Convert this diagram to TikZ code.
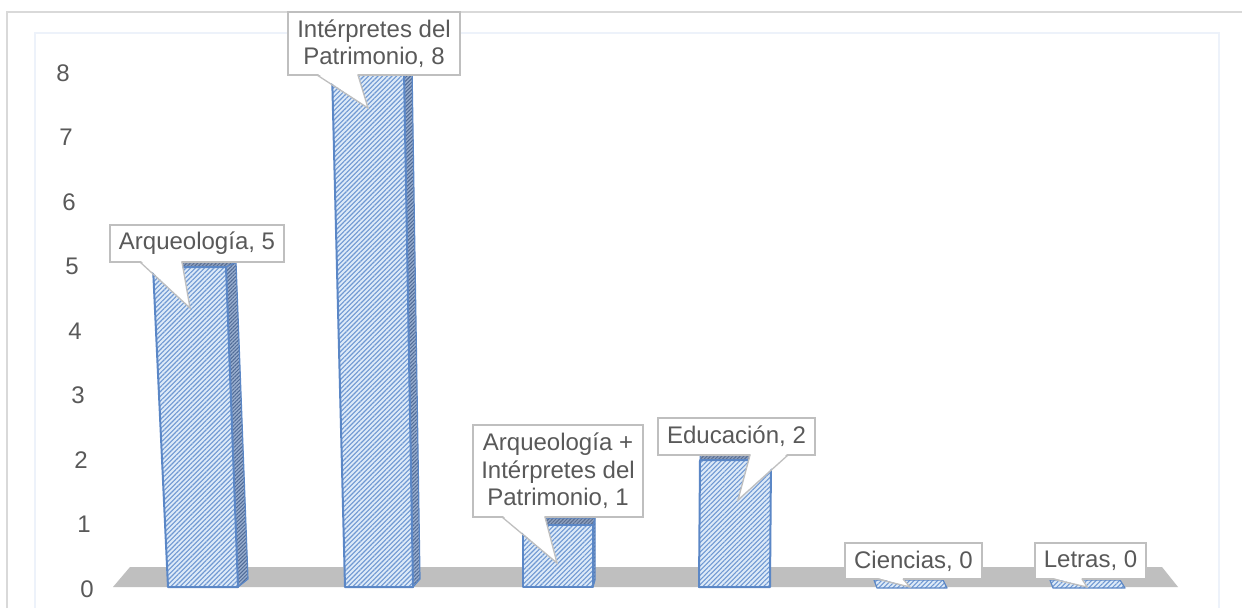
\documentclass[tikz,border=0pt]{standalone}
\usepackage{fontspec}
\setmainfont{Liberation Sans}
\usetikzlibrary{patterns.meta}
\definecolor{txtgrey}{HTML}{595959}
\definecolor{lblgrey}{HTML}{BFBFBF}
\definecolor{floorgrey}{HTML}{BFBFBF}
\definecolor{outergrey}{HTML}{D9D9D9}
\definecolor{innerblue}{HTML}{EDF2FA}
\definecolor{barline}{HTML}{5B87C6}
\definecolor{barfill}{HTML}{DDEAF8}
\definecolor{hatch}{HTML}{6F98D2}
\definecolor{sidefill}{HTML}{9AAFCF}
\definecolor{sidehatch}{HTML}{4F6A96}
\definecolor{topfill}{HTML}{8D9FBD}
\definecolor{tophatch}{HTML}{5A6E90}
\tikzset{
  front/.style={draw=barline, line width=2pt, line join=round, preaction={fill=barfill},
    pattern={Lines[angle=45,distance=3.3pt,line width=1.1pt]}, pattern color=hatch},
  sideface/.style={draw=barline, line width=1.2pt, line join=round, preaction={fill=sidefill},
    pattern={Lines[angle=45,distance=2.6pt,line width=1pt]}, pattern color=sidehatch},
  topface/.style={draw=barline, line width=1pt, line join=round, preaction={fill=topfill},
    pattern={Lines[angle=45,distance=2.6pt,line width=1pt]}, pattern color=tophatch},
  flatbar/.style={draw=barline, line width=1.2pt, line join=round, preaction={fill=barfill},
    pattern={Lines[angle=45,distance=3.3pt,line width=1.1pt]}, pattern color=hatch},
  lbl/.style={draw=lblgrey, fill=white, line width=1.3pt, inner sep=0pt, align=center,
    text=txtgrey, font=\fontsize{24}{27.6}\selectfont},
  ptr/.style={draw=lblgrey, line width=1.3pt, line join=miter},
  axl/.style={text=txtgrey, font=\fontsize{24}{27.6}\selectfont, inner sep=0pt}
}
\newcommand\mycallout[6]{% name, base-left x, base-right x, base y, tip x, tip y
  \coordinate (#1tip) at (#5,#6);
  \fill[white] (#2+0.8,#4-1.2) -- (#1tip) -- (#3-0.8,#4-1.2) -- cycle;
  \draw[ptr] (#2,#4) -- (#1tip) -- (#3,#4);
}
\begin{document}
\begin{tikzpicture}[x=1pt,y=-1pt]
\useasboundingbox (0,0) rectangle (1242,608);
\fill[white] (0,0) rectangle (1242,608);
% chart frame
\draw[outergrey, line width=2pt] (7,608) -- (7,12) -- (1242,12);
\draw[innerblue, line width=1.5pt] (35,608) -- (35,33) -- (1219,33) -- (1219,608);
% floor
\fill[floorgrey] (113,587) -- (1178,587) -- (1162,567) -- (130,567) -- cycle;
% bar 1 Arqueologia 5
\path[sideface] (238,587) -- (248,579) -- (236,262) -- (226,267) -- cycle;
\path[topface] (153,267) -- (226,267) -- (236,262) -- (158,262) -- cycle;
\path[front] (168,587) -- (238,587) -- (226,267) -- (153,267) -- cycle;
% bar 2 Interpretes 8
\path[sideface] (413,587) -- (420,579) -- (412,66) -- (404,71) -- cycle;
\path[topface] (332,71) -- (404,71) -- (412,66) -- (337,66) -- cycle;
\path[front] (345,587) -- (413,587) -- (404,71) -- (332,71) -- cycle;
% bar 3 Arq + Int 1
\path[sideface] (593,587) -- (595,580) -- (595,518) -- (593,525) -- cycle;
\path[topface] (523,525) -- (593,525) -- (595,518) -- (525,518) -- cycle;
\path[front] (523,587) -- (593,587) -- (593,525) -- (523,525) -- cycle;
% bar 4 Educacion 2
\path[topface] (700,460) -- (771,460) -- (770,453) -- (700,453) -- cycle;
\path[front] (699,587) -- (770,587) -- (771,460) -- (700,460) -- cycle;
% bars 5, 6 (zero)
\path[flatbar] (877,588) -- (947,588) -- (943,580) -- (874,580) -- cycle;
\path[flatbar] (1053,588) -- (1125,588) -- (1120,580) -- (1050,580) -- cycle;
% axis labels
\foreach \v in {0,...,8}{
  \node[axl] (y\v) at ({87-3*\v},{589-64.5*\v}) {\v};
}
% data labels
\node[lbl, minimum width=174pt, minimum height=37pt] (a5) at (197,243.5) {Arqueología, 5};
\mycallout{a5}{140}{182}{262}{190}{308}
\node[lbl, minimum width=172pt, minimum height=63pt] (i8) at (374,43.5) {Intérpretes del\\Patrimonio, 8};
\mycallout{i8}{317}{358}{75}{368}{108}
\node[lbl, minimum width=170pt, minimum height=92pt] (ai1) at (558,471) {Arqueología +\\Intérpretes del\\Patrimonio, 1};
\mycallout{ai1}{502}{545}{517}{557}{563}
\node[lbl, minimum width=157pt, minimum height=37pt] (e2) at (736.5,436.5) {Educación, 2};
\mycallout{e2}{750}{788}{455}{738}{500}
\node[lbl, minimum width=137pt, minimum height=36pt] (c0) at (913.5,561) {Ciencias, 0};
\mycallout{c0}{877}{903}{579}{910}{587}
\node[lbl, minimum width=111pt, minimum height=36pt] (l0) at (1090.5,561) {Letras, 0};
\mycallout{l0}{1052}{1082}{579}{1087}{587}
\end{tikzpicture}
\end{document}
